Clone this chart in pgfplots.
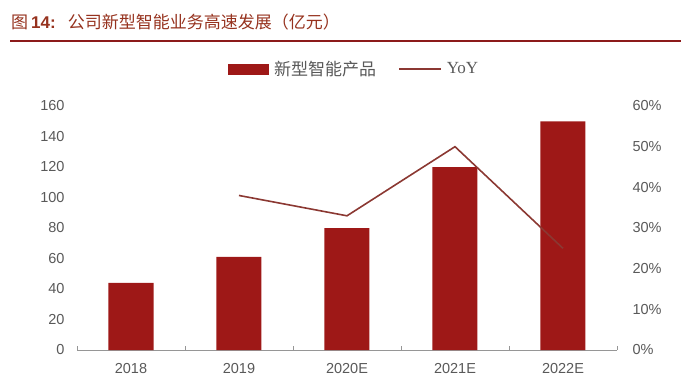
\documentclass[border=0pt]{standalone}
\usepackage{pgfplots}
\pgfplotsset{compat=1.18}
\usepackage{fontspec}
\setmainfont{Liberation Sans}
\newfontfamily\cjk{Noto Sans CJK SC}
\newfontfamily\yoyfont{Liberation Serif}
\definecolor{barred}{RGB}{158,24,23}
\definecolor{linered}{RGB}{139,56,50}
\definecolor{titlered}{RGB}{150,50,30}
\definecolor{ruled}{RGB}{140,26,26}
\definecolor{ticktext}{RGB}{89,89,89}
\definecolor{axisgray}{RGB}{150,150,150}
\begin{document}
\begin{tikzpicture}[x=1pt,y=1pt]
\useasboundingbox (0,0) rectangle (681,-380);
\node[anchor=west, text=titlered, inner sep=0pt] at (11,-22) {\fontsize{17}{17}\selectfont{\cjk 图}\hspace{3pt}{\bfseries 14:}\hspace{12pt}{\cjk 公司新型智能业务高速发展（亿元）}};
\draw[ruled, line width=2pt] (10,-41) -- (681,-41);
\begin{axis}[
  at={(77pt,-350pt)}, anchor=south west,
  scale only axis, width=540pt, height=244pt,
  xmin=-0.5, xmax=4.5, ymin=0, ymax=160,
  axis x line*=bottom, axis y line*=left,
  y axis line style={draw=none},
  x axis line style={draw=axisgray, line width=0.8pt},
  xtick={-0.5,0.5,...,4.5},
  x tick label as interval,
  xticklabels={2018,2019,2020E,2021E,2022E},
  tick align=inside,
  major tick length=4pt,
  xtick style={draw=axisgray, line width=0.8pt},
  ytick={0,20,...,160},
  ytick style={draw=none},
  tick label style={font=\fontsize{14.5}{14.5}\selectfont, text=ticktext},
  /pgf/number format/assume math mode=true,
  yticklabel style={xshift=-9pt},
  xticklabel style={yshift=-10pt},
  clip=false,
]
\addplot[ybar, bar width=45pt, fill=barred, draw=none] coordinates {(0,44) (1,61) (2,80) (3,120) (4,150)};
\end{axis}
\begin{axis}[
  at={(77pt,-350pt)}, anchor=south west,
  scale only axis, width=540pt, height=244pt,
  xmin=-0.5, xmax=4.5, ymin=0, ymax=60,
  axis y line*=right, axis x line=none,
  y axis line style={draw=none},
  ytick={0,10,...,60},
  ytick style={draw=none},
  yticklabel={\pgfmathprintnumber{\tick}\%},
  tick label style={font=\fontsize{14.5}{14.5}\selectfont, text=ticktext},
  /pgf/number format/assume math mode=true,
  yticklabel style={xshift=12pt},
  legend style={at={(0.513,1.152)}, anchor=center, draw=none, fill=none,
    legend columns=2, font=\fontsize{17}{17}\selectfont, text=ticktext,
    /tikz/every even column/.append style={column sep=20pt}},
  clip=false,
]
\addlegendimage{legend image code/.code={\fill[barred] (0pt,-5pt) rectangle (40pt,5pt); \path (44pt,0pt);}}
\addlegendentry{\cjk 新型智能产品}
\addplot[linered, line width=1.6pt, mark=none, legend image code/.code={\draw[linered, line width=1.6pt] (0pt,0pt) -- (42pt,0pt); \path (45pt,0pt);}] coordinates {(1,38) (2,33) (3,50) (4,25)};
\addlegendentry{\yoyfont YoY}
\end{axis}
\end{tikzpicture}
\end{document}
